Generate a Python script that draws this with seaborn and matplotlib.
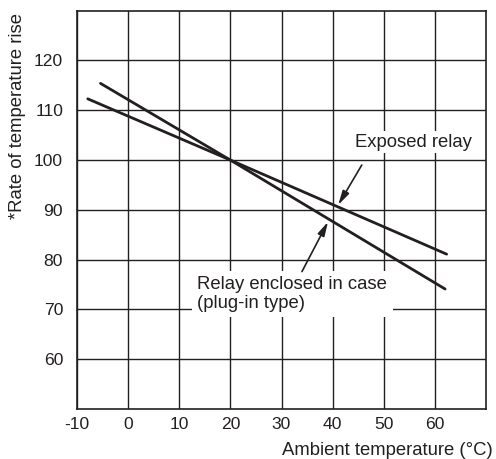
import matplotlib
matplotlib.use("Agg")
import matplotlib.pyplot as plt
import seaborn as sns
import pandas as pd

# Data
exposed_temp = [-7.9, 20.0, 62.3]
exposed_rate = [112.3, 100.0, 81.1]
enclosed_temp = [-5.4, 20.0, 62.0]
enclosed_rate = [115.4, 100.0, 74.1]

x_ticks = [-10, 0, 10, 20, 30, 40, 50, 60]
y_ticks = [60, 70, 80, 90, 100, 110, 120]

sns.set_theme(style="white")
plt.rcParams["font.family"] = ["Liberation Sans", "DejaVu Sans"]

INK = "#231f20"
FS = 13.3

df = pd.concat([
    pd.DataFrame({"temp": exposed_temp, "rate": exposed_rate, "type": "Exposed relay"}),
    pd.DataFrame({"temp": enclosed_temp, "rate": enclosed_rate, "type": "Relay enclosed in case"}),
])

fig = plt.figure(figsize=(4.96, 4.59), dpi=100)
ax = fig.add_axes([77 / 496, 1 - 409 / 459, (486 - 77) / 496, (409 - 10.7) / 459])

sns.lineplot(data=df, x="temp", y="rate", units="type", estimator=None,
             color=INK, linewidth=2.0, ax=ax, legend=False, zorder=3)

ax.set_xlim(-10, 70)
ax.set_ylim(50, 130)
ax.set_xticks(x_ticks)
ax.set_yticks(y_ticks)
ax.set_xticklabels([str(v) for v in x_ticks])
ax.set_yticklabels([str(v) for v in y_ticks])
ax.grid(True, color=INK, linewidth=1.0)
ax.set_axisbelow(True)
for s in ax.spines.values():
    s.set_color(INK)
    s.set_linewidth(1.2)
ax.tick_params(axis="both", length=0, labelsize=12.6, colors=INK)
ax.tick_params(axis="x", pad=6.0)
ax.tick_params(axis="y", pad=10)
ax.set_xlabel("")
ax.set_ylabel("")

# Labels with white backgrounds that hide the grid
ax.text(55.9, 103.6, "Exposed relay", fontsize=FS, color=INK, ha="center", va="center",
        zorder=4, bbox=dict(boxstyle="square,pad=0.15", fc="white", ec="none"))
ax.text(13.5, 73.1, "Relay enclosed in case\n(plug-in type)", fontsize=FS, color=INK,
        ha="left", va="center", linespacing=1.1, zorder=4,
        bbox=dict(boxstyle="square,pad=0.3", fc="white", ec="none"))

arrow = dict(arrowstyle="-|>,head_length=0.7,head_width=0.18", color=INK, lw=1.2,
             shrinkA=0, shrinkB=0, mutation_scale=12)
ax.annotate("", xy=(41.1, 91.0), xytext=(45.7, 99.0), arrowprops=arrow, zorder=5)
ax.annotate("", xy=(39.1, 87.6), xytext=(34.0, 77.6), arrowprops=arrow, zorder=5)

fig.text(17.5 / 496, 1 - 13 / 459, "*Rate of temperature rise", rotation=90,
         ha="center", va="top", fontsize=FS, color=INK)
fig.text(493 / 496, 1 - 455 / 459, "Ambient temperature (°C)", ha="right",
         va="baseline", fontsize=FS, color=INK)

fig.savefig("out.png", dpi=100, facecolor="white")
